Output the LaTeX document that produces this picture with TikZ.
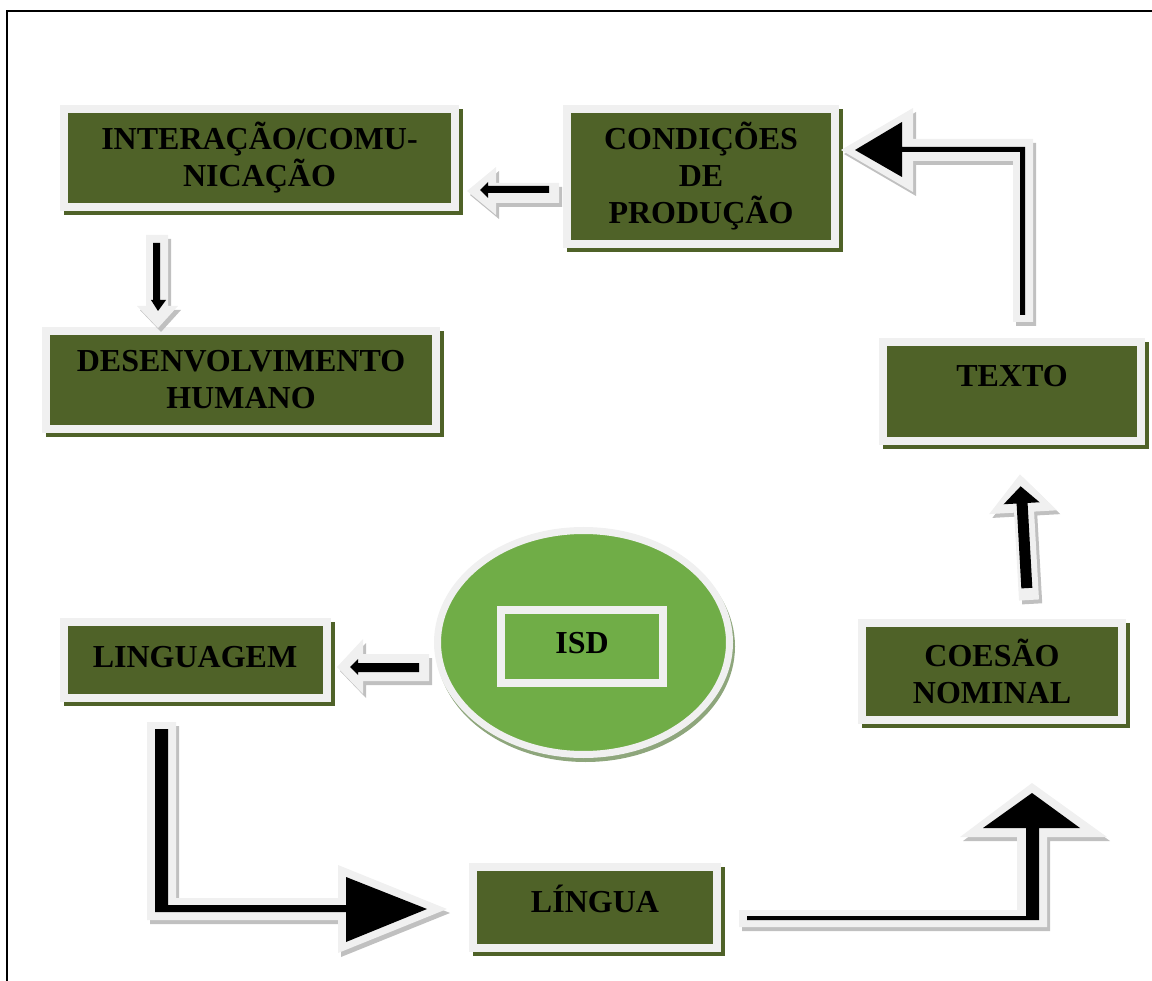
\documentclass[tikz,border=0pt]{standalone}
\usepackage{fontspec}
\setmainfont{Liberation Serif}
\usetikzlibrary{shapes.geometric}
\definecolor{boxolive}{HTML}{4F6228}
\definecolor{boxgrey}{HTML}{F0F0F0}
\definecolor{arrshadow}{HTML}{C0C0C0}
\definecolor{isdgreen}{HTML}{70AD47}
\definecolor{ellshadow}{HTML}{8EA67C}
\newcommand\blockarrow[2]{%
  \fill[arrshadow,shift={(3,4)}] #1;
  \fill[boxgrey] #1;
  \fill[black] #2;}
\begin{document}
\begin{tikzpicture}[x=1pt,y=-1pt,
  txt/.style={align=center, text=black, font=\fontsize{32}{37}\selectfont\bfseries},
  box/.style={txt, draw=boxgrey, line width=8pt, fill=boxolive, inner sep=0pt,
    preaction={draw=boxolive, fill=boxolive, line width=8pt,
      transform canvas={shift={(4pt,-4pt)}}}},
  isdbox/.style={txt, draw=boxgrey, line width=8pt, fill=isdgreen, inner sep=0pt},
  isdell/.style={ellipse, draw=boxgrey, line width=7pt, fill=isdgreen, inner sep=0pt,
    preaction={draw=ellshadow, fill=ellshadow, line width=7pt,
      transform canvas={shift={(2pt,-4pt)}}}},
  oneline/.style={text height=21pt, text depth=#1}
]
\useasboundingbox (0,0) rectangle (1152,981);
% frame
\draw[line width=1.5pt] (7,981) -- (7,11) -- (1152,11);

% boxes
\node[box, minimum width=391pt, minimum height=98pt] (inter) at (259.5,158) {INTERAÇÃO/COMU-\\NICAÇÃO};
\node[box, minimum width=268pt, minimum height=135pt] (cond) at (701,176.5) {CONDIÇÕES\\DE\\PRODUÇÃO};
\node[box, minimum width=390pt, minimum height=98pt] (desenv) at (241,380) {DESENVOLVIMENTO\\HUMANO};
\node[box, minimum width=258pt, minimum height=99pt, oneline=30pt] (texto) at (1012,391.5) {TEXTO};
\node[box, minimum width=263pt, minimum height=76pt, oneline=7pt] (ling) at (195,660) {LINGUAGEM};
\node[box, minimum width=260pt, minimum height=97pt] (coesao) at (992,671.5) {COESÃO\\NOMINAL};
\node[box, minimum width=244pt, minimum height=81pt, oneline=12pt] (lingua) at (595,907.5) {LÍNGUA};
\node[isdell, minimum width=292pt, minimum height=224pt] (ell) at (583.5,642.5) {};
\node[isdbox, minimum width=162pt, minimum height=73pt, oneline=8pt] (isd) at (582,646.5) {ISD};

% arrow: CONDICOES -> INTERACAO
\blockarrow{(467,191) -- (496,167) -- (496,183) -- (559,183) -- (559,203) -- (496,203) -- (496,215) -- cycle}
           {(480,190) -- (488,182) -- (488,186) -- (549,186) -- (549,193) -- (488,193) -- (488,198) -- cycle}
% arrow: INTERACAO -> DESENVOLVIMENTO
\blockarrow{(146,235) -- (168,235) -- (168,306) -- (178,306) -- (158,328) -- (137,306) -- (146,306) -- cycle}
           {(153,243) -- (160,243) -- (160,300) -- (166,300) -- (158,311) -- (151,300) -- (153,300) -- cycle}
% arrow: TEXTO -> CONDICOES (bent)
\blockarrow{(841,150) -- (913,108) -- (913,139) -- (1033,139) -- (1033,322) -- (1013,322) -- (1013,161) -- (913,161) -- (913,192) -- cycle}
           {(855,150) -- (902,122) -- (902,147) -- (1025,147) -- (1025,315) -- (1020,315) -- (1020,152) -- (902,152) -- (902,177) -- cycle}
% arrow: COESAO -> TEXTO
\begin{scope}[shift={(1029,600)}, rotate=3.2]
\blockarrow{(-10,0) -- (-10,-88) -- (-35,-88) -- (-2,-126) -- (33,-88) -- (10,-88) -- (10,0) -- cycle}
           {(-7,-12) -- (-7,-97) -- (-20,-97) -- (-2,-114) -- (16,-97) -- (4,-97) -- (4,-12) -- cycle}
\end{scope}
% arrow: ISD -> LINGUAGEM
\blockarrow{(337,667) -- (363,639) -- (363,654) -- (429,654) -- (429,681) -- (363,681) -- (363,694) -- cycle}
           {(350,667) -- (358,659) -- (358,663) -- (419,663) -- (419,672) -- (358,672) -- (358,675) -- cycle}
% arrow: LINGUAGEM -> LINGUA (bent)
\blockarrow{(147,722) -- (176,722) -- (176,898) -- (338,898) -- (338,865) -- (447,909) -- (338,953) -- (338,920) -- (147,920) -- cycle}
           {(155,729) -- (168,729) -- (168,905) -- (346,905) -- (346,877) -- (427,909) -- (346,942) -- (346,912) -- (155,912) -- cycle}
% arrow: LINGUA -> COESAO (bent)
\blockarrow{(739,910) -- (1017,910) -- (1017,837) -- (960,837) -- (1032,783) -- (1107,837) -- (1047,837) -- (1047,927) -- (739,927) -- cycle}
           {(747,916) -- (1026,916) -- (1026,828) -- (983,828) -- (1032,793) -- (1080,828) -- (1039,828) -- (1039,920) -- (747,920) -- cycle}
\end{tikzpicture}
\end{document}
